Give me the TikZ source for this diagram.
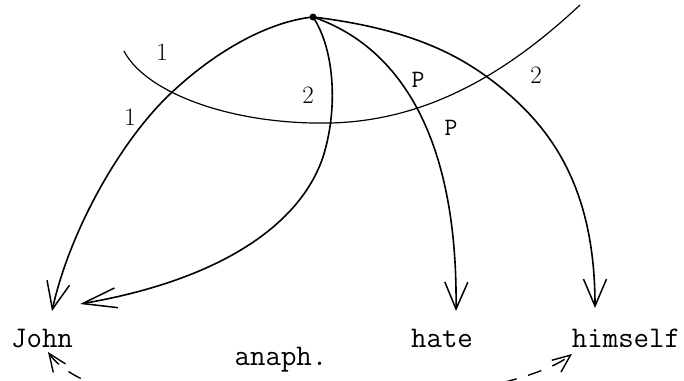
\documentclass[tikz,border=0pt]{standalone}
\usetikzlibrary{arrows.meta}
\begin{document}
\begin{tikzpicture}[x=1pt,y=-1pt,
  edge/.style={line width=1.6pt,-{Straight Barb[length=27pt,width=23pt,line width=1.5pt]}},
  longedge/.style={line width=1.6pt,-{Straight Barb[length=34pt,width=20pt,line width=1.5pt]}},
  arcline/.style={line width=1.2pt},
  word/.style={font=\ttfamily\fontsize{30}{30}\selectfont,anchor=base,inner sep=0pt},
  num/.style={font=\fontsize{25}{25}\selectfont,inner sep=0pt},
  pl/.style={font=\ttfamily\fontsize{25}{25}\selectfont,inner sep=0pt},
  anaphline/.style={line width=1.4pt,dash pattern=on 14pt off 12pt,{Straight Barb[length=18pt,width=15pt]}-{Straight Barb[length=18pt,width=15pt]}}]
\useasboundingbox (0,0) rectangle (684,380);
\clip (0,0) rectangle (684,380);
% words
\node[word] (john) at (42,347) {John};
\node[word] (hate) at (442,347) {hate};
\node[word] (himself) at (626,347) {himself};
\node[word] (anaph) at (281,365) {anaph.};
% top point
\coordinate (t) at (313,17);
\fill (t) circle (3.5pt);
% arrow tips
\coordinate (j1) at (52,311);
\coordinate (j2) at (80,304);
\coordinate (h1) at (456,311);
\coordinate (h2) at (595,308);
\draw[edge] (t) .. controls (265,22) and (210,55) .. (167,97) .. controls (120,143) and (70,230) .. (j1);
\draw[longedge] (t) .. controls (335,50) and (338,110) .. (323,157) .. controls (300,225) and (220,280) .. (j2);
\draw[edge] (t) .. controls (395,45) and (458,130) .. (h1);
\draw[edge] (t) .. controls (420,30) and (470,60) .. (512,97) .. controls (560,140) and (595,200) .. (h2);
% crossing arc
\coordinate (a0) at (124,51);
\coordinate (a1) at (330,123);
\coordinate (a2) at (580,5);
\draw[arcline] (a0) .. controls (145,92) and (230,125) .. (a1) .. controls (420,121) and (500,80) .. (a2);
% labels
\node[num] (l1) at (162,52) {1};
\node[num] (l2) at (130,117) {1};
\node[num] (l3) at (308,95) {2};
\node[num] (l4) at (536,75) {2};
\node[pl] (p1) at (418,80) {P};
\node[pl] (p2) at (451,128) {P};
% anaphora link
\coordinate (ja) at (48,352);
\coordinate (ha) at (572,354);
\draw[anaphline] (ja) .. controls (110,440) and (500,410) .. (ha);
\end{tikzpicture}
\end{document}
